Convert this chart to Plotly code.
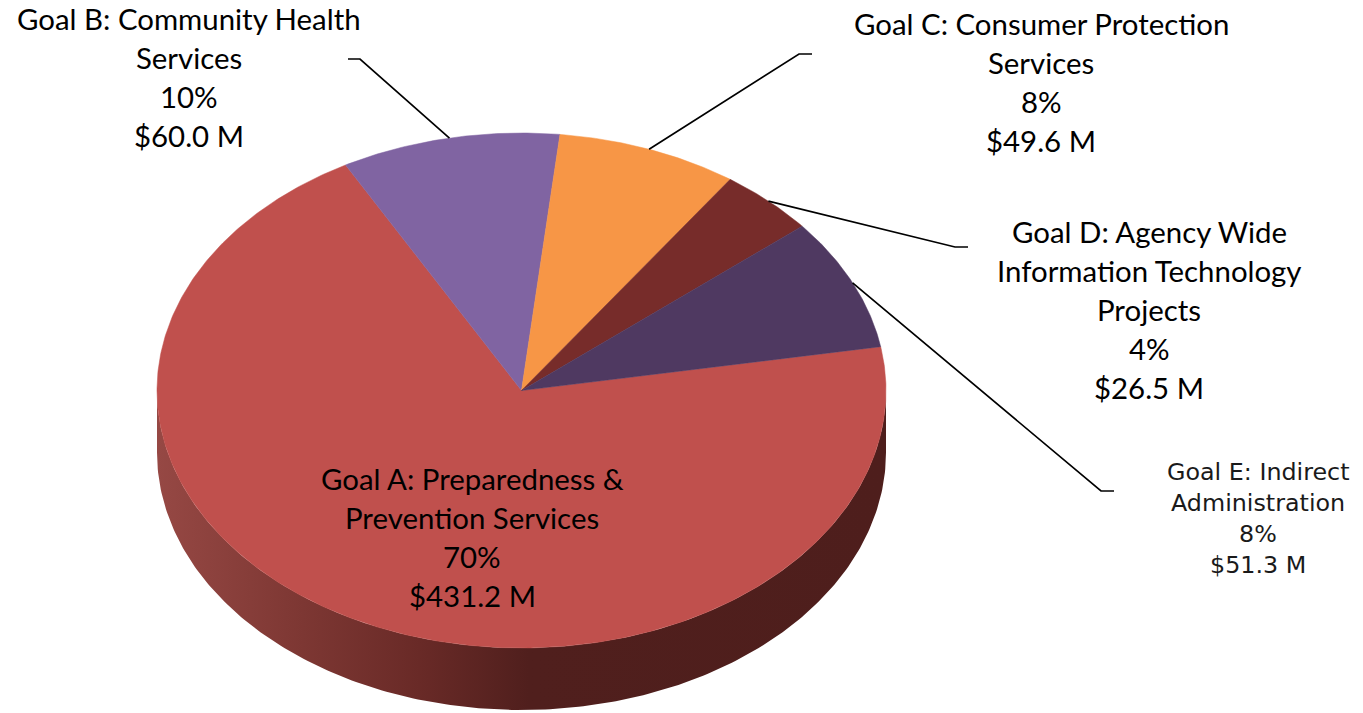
import plotly.graph_objects as go
import numpy as np

# ---- data ----
goals = ["Goal A", "Goal B", "Goal C", "Goal D", "Goal E"]
values = [431.2, 60.0, 49.6, 26.5, 51.3]
percents = ["70%", "10%", "8%", "4%", "8%"]
dollars = ["$431.2 M", "$60.0 M", "$49.6 M", "$26.5 M", "$51.3 M"]
names = [
    ["Goal A: Preparedness &", "Prevention Services"],
    ["Goal B: Community Health", "Services"],
    ["Goal C: Consumer Protection", "Services"],
    ["Goal D: Agency Wide", "Information Technology", "Projects"],
    ["Goal E: Indirect", "Administration"],
]

# ---- styling / geometry ----
colors = ["#C0504D", "#8064A2", "#F79646", "#772C2A", "#4F3961"]
CX, CY, RX, RY, DEPTH = 521.5, 390.5, 364.5, 257.5, 62
START = 80.2  # degrees clockwise from 12 o'clock where Goal A starts
label_pos = [(472, 478.5), (189, 18.5), (1041, 23.5), (1149, 231.5), (1258, 472)]
line_step = [39, 39, 39, 39, 31]
fonts = [("Lato", 29.4)] * 4 + [("DejaVu Sans", 23.8)]
text_colors = ["#000000"] * 4 + ["#1a1a1a"]
# elbow and end of each leader (Goal A has none)
leaders = {1: [(360, 59), (348, 59)], 2: [(799, 54), (812, 54)],
           3: [(955, 247), (968, 247)], 4: [(1101, 491), (1114, 491)]}
side_scale = [[0.0, "rgb(150,72,68)"], [0.2, "rgb(125,55,51)"], [0.36, "rgb(105,42,39)"],
              [0.51, "rgb(80,31,29)"], [1.0, "rgb(78,30,28)"]]


def pt(deg, dy=0.0):
    a = np.radians(deg)
    return CX + RX * np.sin(a), CY - RY * np.cos(a) + dy


fig = go.Figure()

# front wall of the disc with a left-to-right gradient
t = np.linspace(90, 270, 241)
x, y = pt(t)
x2, y2 = pt(t[::-1], DEPTH)
fig.add_trace(go.Scatter(
    x=np.r_[x, x2], y=np.r_[y, y2], mode="lines", fill="toself",
    fillgradient=dict(type="horizontal", colorscale=side_scale, start=CX - RX, stop=CX + RX),
    line=dict(width=0), hoverinfo="skip", showlegend=False))

# top face wedges
total = sum(values)
ang = START
mids = []
for i, v in enumerate(values):
    sweep = v / total * 360
    t = np.linspace(ang, ang + sweep, max(int(sweep * 2), 12))
    x, y = pt(t)
    fig.add_trace(go.Scatter(
        x=np.r_[CX, x, CX], y=np.r_[CY, y, CY], mode="lines", fill="toself",
        fillcolor=colors[i], line=dict(color=colors[i], width=0.5),
        name=goals[i], hoverinfo="name", showlegend=False))
    mids.append(ang + sweep / 2)
    ang += sweep

# leader lines start at the rim at the middle of each wedge
for i, pts in leaders.items():
    x0, y0 = pt(mids[i])
    fig.add_trace(go.Scatter(
        x=[x0] + [p[0] for p in pts], y=[y0] + [p[1] for p in pts], mode="lines",
        line=dict(color="black", width=1.7), hoverinfo="skip", showlegend=False))

# labels, one annotation per text line
for i in range(5):
    lines = names[i] + [percents[i], dollars[i]]
    lx, ly = label_pos[i]
    fam, size = fonts[i]
    for j, s in enumerate(lines):
        fig.add_annotation(x=lx, y=ly + j * line_step[i], text=s,
                           showarrow=False, xanchor="center", yanchor="middle",
                           font=dict(family=fam, size=size, color=text_colors[i]))

fig.update_xaxes(range=[0, 1363], visible=False, fixedrange=True)
fig.update_yaxes(range=[713, 0], visible=False, fixedrange=True)
fig.update_layout(width=1363, height=713, margin=dict(l=0, r=0, t=0, b=0),
                  paper_bgcolor="white", plot_bgcolor="white", showlegend=False)
fig.write_html("out.html", config={"displayModeBar": False},
               post_script="document.body.style.margin='0';document.body.style.overflow='hidden';")
